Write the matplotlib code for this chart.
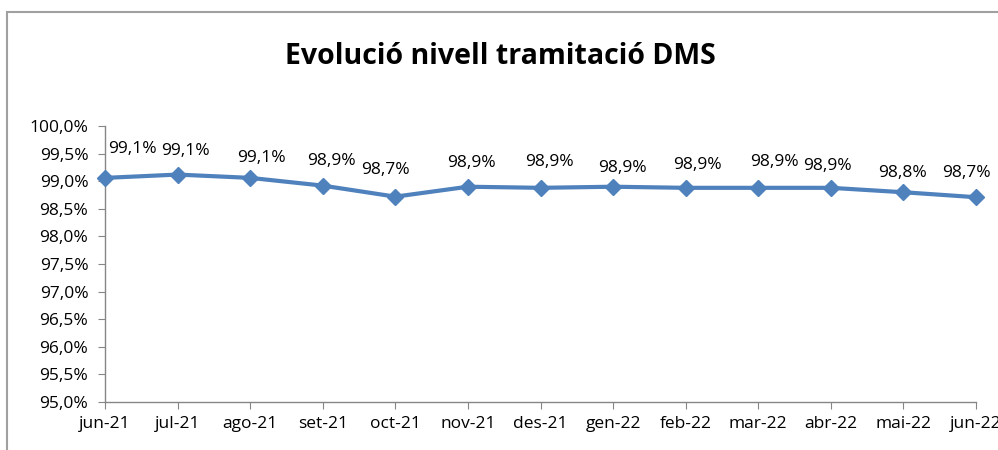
import matplotlib.pyplot as plt
import numpy as np
from matplotlib.patches import Rectangle
from matplotlib.ticker import FuncFormatter

plt.rcParams['font.family'] = ['Open Sans', 'DejaVu Sans']

months = ['jun-21', 'jul-21', 'ago-21', 'set-21', 'oct-21', 'nov-21', 'des-21',
          'gen-22', 'feb-22', 'mar-22', 'abr-22', 'mai-22', 'jun-22']
level = [99.06, 99.12, 99.06, 98.92, 98.72, 98.90, 98.88,
         98.90, 98.88, 98.88, 98.88, 98.80, 98.71]

# label offsets in pixels (dx, dy), as Excel placed them
label_dx = [27, 8, 11, 9, -10, 4, 9, 9, 12, 16, -3, -1, -10]
label_dy = [29, 24, 20, 25, 27, 24, 26, 19, 23, 26, 22, 19, 24]

blue = '#4F81BD'
grey = '#868686'

fig = plt.figure(figsize=(9.98, 4.5), dpi=100)
fig.patches.append(Rectangle((7/998, -0.1), 1.2, (450-12)/450 + 0.1,
                             transform=fig.transFigure, fill=False,
                             edgecolor='#A0A0A0', linewidth=1.5))

ax = fig.add_axes([105/998, 48/450, 871/998, 276/450])
x = np.arange(len(months))
ax.plot(x, level, color=blue, linewidth=3, marker='D', markersize=8.5,
        markeredgecolor=blue, clip_on=False, zorder=3)

for i, v in enumerate(level):
    txt = f'{v:.1f}%'.replace('.', ',')
    ax.annotate(txt, (x[i], v), xytext=(label_dx[i] * 0.72, label_dy[i] * 0.72),
                textcoords='offset points', ha='center', va='center', fontsize=12.5)

ax.set_xlim(0, len(months) - 1)
ax.set_ylim(95, 100)
ax.set_yticks(np.arange(95, 100.01, 0.5))
ax.yaxis.set_major_formatter(FuncFormatter(lambda v, p: f'{v:.1f}%'.replace('.', ',')))
ax.set_xticks(x)
ax.set_xticklabels(months)

for s in ['top', 'right']:
    ax.spines[s].set_visible(False)
for s in ['left', 'bottom']:
    ax.spines[s].set_color(grey)
    ax.spines[s].set_linewidth(1)
ax.tick_params(axis='both', colors=grey, labelcolor='black', labelsize=12.5,
               length=5, direction='out')
ax.tick_params(axis='y', pad=7)
ax.tick_params(axis='x', pad=5)

fig.text(500/998, 1 - 56/450, 'Evolució nivell tramitació DMS', ha='center',
         va='center', fontsize=20.5, fontweight='bold')

fig.savefig('out.png', dpi=100)
